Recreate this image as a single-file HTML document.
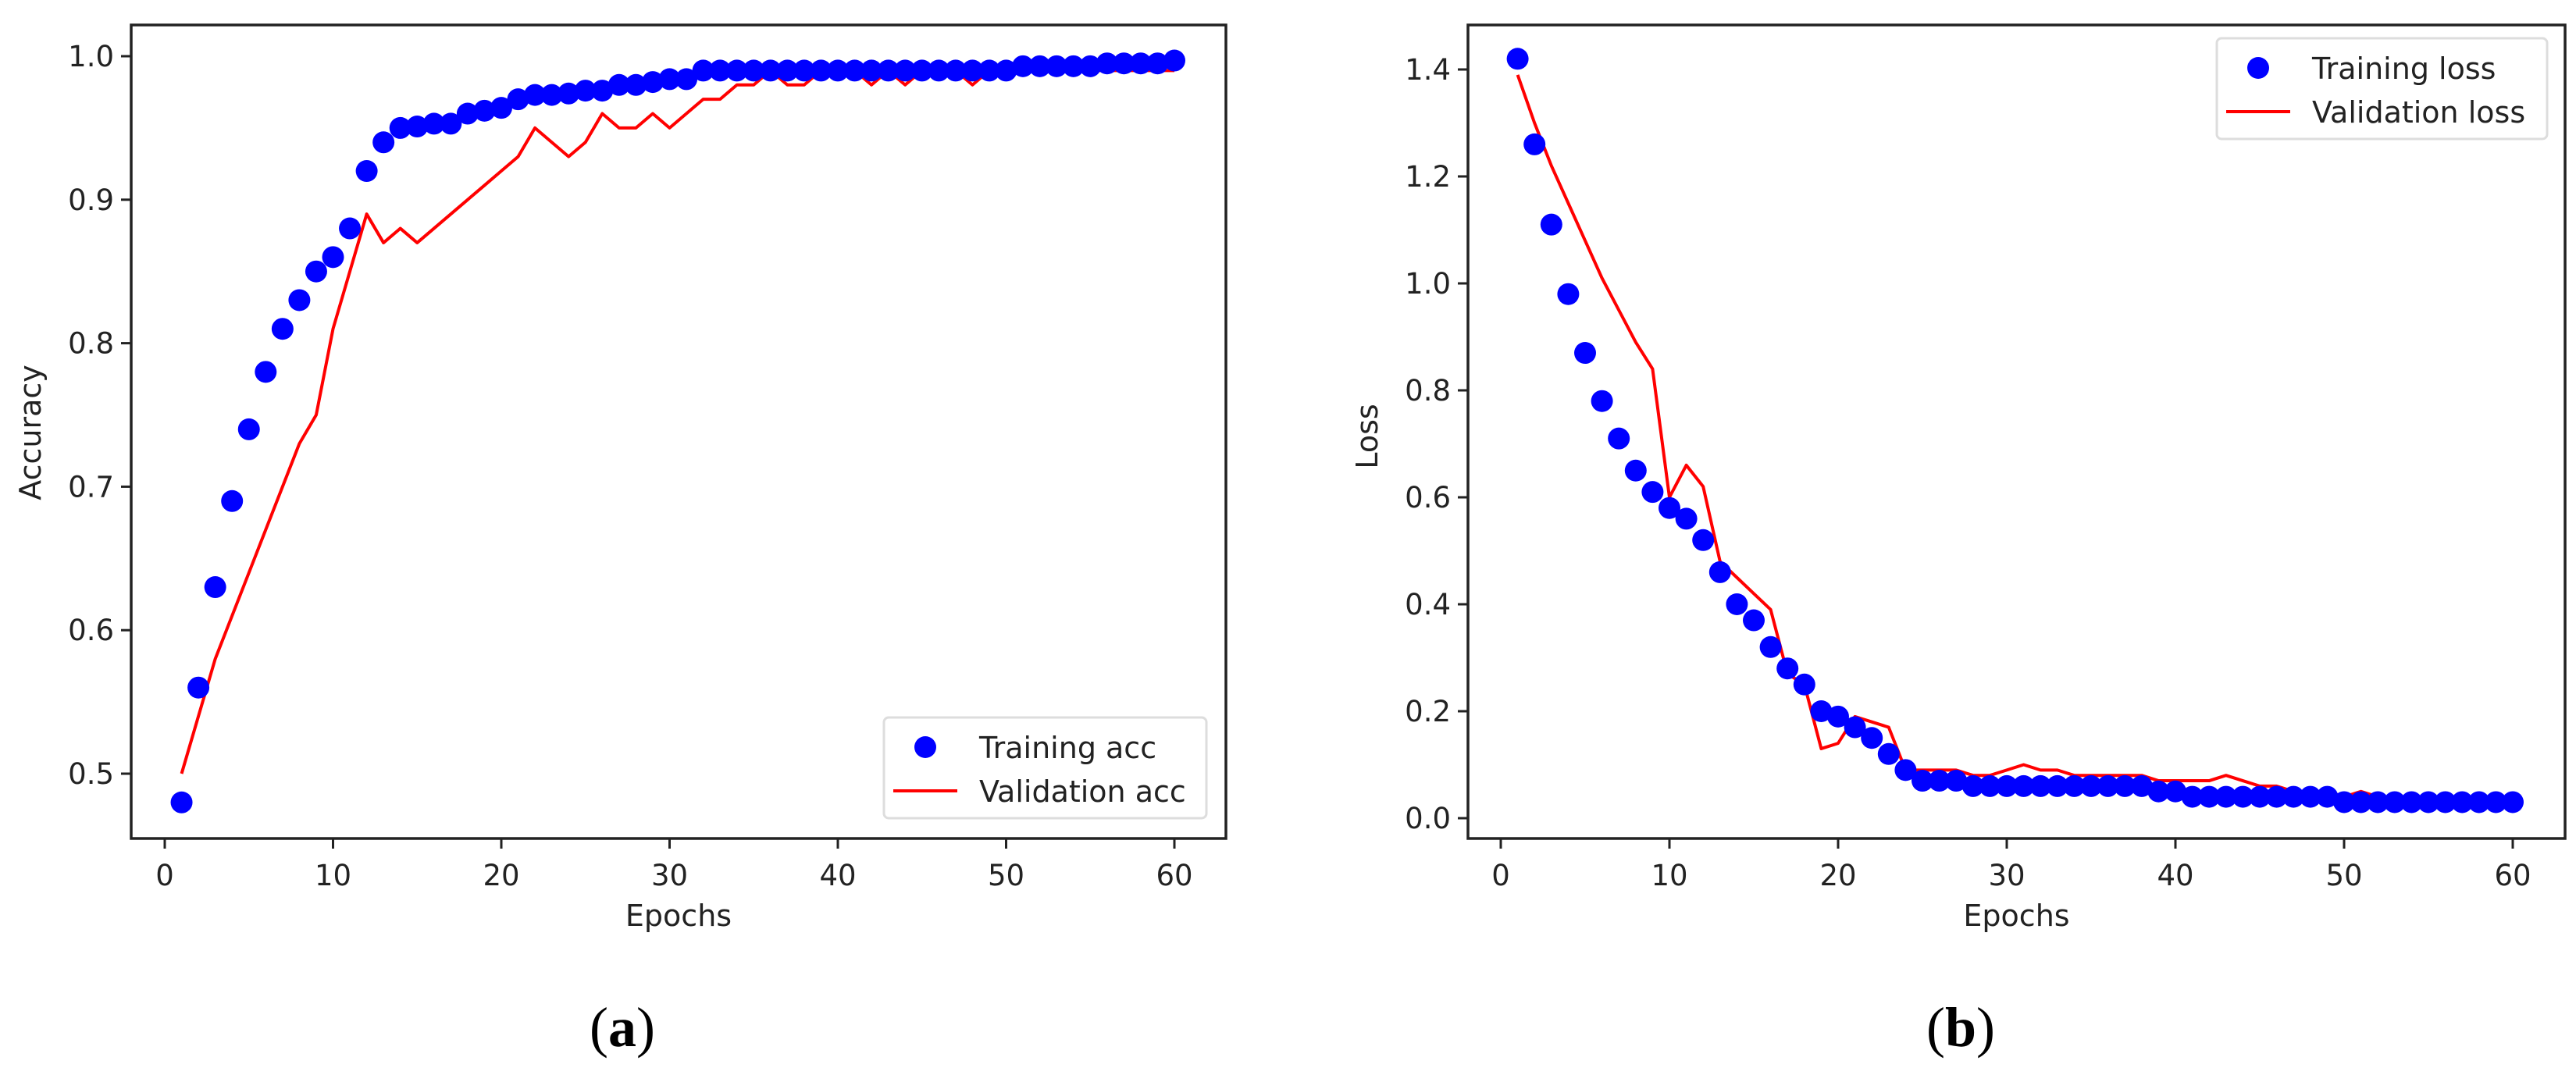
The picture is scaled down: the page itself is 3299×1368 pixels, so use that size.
<!DOCTYPE html>
<html><head><meta charset="utf-8"><style>
html,body{margin:0;padding:0;background:#fff;}
svg{display:block;}
text{font-family:"DejaVu Sans","Liberation Sans",sans-serif;fill:#222;}
.cap{font-family:"Liberation Serif",serif;fill:#000;}
</style></head><body>
<svg id="fig" width="3299" height="1368" viewBox="0 0 3299 1368" xmlns="http://www.w3.org/2000/svg"></svg>
<script>
const epochs = Array.from({length:60},(_,i)=>i+1);
const trainAcc = [0.48,0.56,0.63,0.69,0.74,0.78,0.81,0.83,0.85,0.86,0.88,0.92,0.94,0.95,0.951,0.953,0.953,0.96,0.962,0.964,0.97,0.973,0.973,0.974,0.976,0.976,0.98,0.98,0.982,0.984,0.984,0.99,0.99,0.99,0.99,0.99,0.99,0.99,0.99,0.99,0.99,0.99,0.99,0.99,0.99,0.99,0.99,0.99,0.99,0.99,0.993,0.993,0.993,0.993,0.993,0.995,0.995,0.995,0.995,0.997];
const valAcc = [0.50,0.54,0.58,0.61,0.64,0.67,0.70,0.73,0.75,0.81,0.85,0.89,0.87,0.88,0.87,0.88,0.89,0.90,0.91,0.92,0.93,0.95,0.94,0.93,0.94,0.96,0.95,0.95,0.96,0.95,0.96,0.97,0.97,0.98,0.98,0.99,0.98,0.98,0.99,0.99,0.99,0.98,0.99,0.98,0.99,0.99,0.99,0.98,0.99,0.99,0.99,0.99,0.99,0.99,0.99,0.99,0.99,0.99,0.99,0.99];
const trainLoss = [1.42,1.26,1.11,0.98,0.87,0.78,0.71,0.65,0.61,0.58,0.56,0.52,0.46,0.40,0.37,0.32,0.28,0.25,0.20,0.19,0.17,0.15,0.12,0.09,0.07,0.07,0.07,0.06,0.06,0.06,0.06,0.06,0.06,0.06,0.06,0.06,0.06,0.06,0.05,0.05,0.04,0.04,0.04,0.04,0.04,0.04,0.04,0.04,0.04,0.03,0.03,0.03,0.03,0.03,0.03,0.03,0.03,0.03,0.03,0.03];
const valLoss = [1.39,1.30,1.22,1.15,1.08,1.01,0.95,0.89,0.84,0.60,0.66,0.62,0.48,0.45,0.42,0.39,0.27,0.25,0.13,0.14,0.19,0.18,0.17,0.09,0.09,0.09,0.09,0.08,0.08,0.09,0.10,0.09,0.09,0.08,0.08,0.08,0.08,0.08,0.07,0.07,0.07,0.07,0.08,0.07,0.06,0.06,0.05,0.05,0.05,0.04,0.05,0.04,0.03,0.04,0.04,0.04,0.04,0.04,0.04,0.04];
const xTicks = [0,10,20,30,40,50,60];
const accTicks = [0.5,0.6,0.7,0.8,0.9,1.0];
const lossTicks = [0.0,0.2,0.4,0.6,0.8,1.0,1.2,1.4];

const NS="http://www.w3.org/2000/svg";
const svg=document.getElementById('fig');
function mk(tag,attrs,parent){const e=document.createElementNS(NS,tag);for(const k in attrs)e.setAttribute(k,attrs[k]);(parent||svg).appendChild(e);return e;}

function panel(cfg){
  const g=mk('g',{});
  
  
  const xs=v=>cfg.x0px+(v-0)*(cfg.x60px-cfg.x0px)/60;
  const ys=v=>cfg.yA+(v-cfg.vA)*(cfg.yB-cfg.yA)/(cfg.vB-cfg.vA);
  // ticks
  xTicks.forEach(t=>{
    const l=mk('line',{x1:xs(t),x2:xs(t),y1:cfg.B,y2:cfg.B+13,stroke:'#222','stroke-width':3},g);
    
    
    const tx=mk('text',{x:xs(t),y:cfg.B+60,'font-size':37,'text-anchor':'middle'},g);
    tx.textContent=t;
    
    
  });
  cfg.yTicks.forEach(t=>{
    const l=mk('line',{x1:cfg.L-13,x2:cfg.L,y1:ys(t),y2:ys(t),stroke:'#222','stroke-width':3},g);
    
    
    const tx=mk('text',{x:cfg.L-22,y:ys(t)+13,'font-size':37,'text-anchor':'end'},g);
    tx.textContent=t.toFixed(1);
    
    
  });
  // val line
  const pts=epochs.map((e,i)=>xs(e)+','+ys(cfg.val[i])).join(' ');
  const pl=mk('polyline',{points:pts,fill:'none',stroke:'#ff0000','stroke-width':4,'stroke-linejoin':'round'},g);
  
  
  // train dots
  epochs.forEach((e,i)=>{
    const c=mk('circle',{cx:xs(e),cy:ys(cfg.train[i]),r:14,fill:'#0000ff'},g);
    
    
  });
  // frame
  const fr=mk('rect',{x:cfg.L,y:cfg.T,width:cfg.R-cfg.L,height:cfg.B-cfg.T,fill:'none',stroke:'#222','stroke-width':3.5},g);
  
  
  // labels
  const xl=mk('text',{x:(cfg.L+cfg.R)/2,y:1186,'font-size':38,'text-anchor':'middle'},g);
  xl.textContent='Epochs';
  
  
  const yl=mk('text',{x:cfg.ylx,y:cfg.yly,'font-size':38,'text-anchor':'middle',transform:`rotate(-90 ${cfg.ylx} ${cfg.yly})`},g);
  yl.textContent=cfg.ylabel;
  
  
  // legend
  const lg=mk('g',{},g);
  
  
  const lx=cfg.legX, ly=cfg.legY;
  mk('rect',{x:lx,y:ly,width:cfg.legW,height:129,rx:6,fill:'#fff',stroke:'#ddd','stroke-width':3},lg);
  mk('circle',{cx:lx+53,cy:ly+38,r:14,fill:'#0000ff'},lg);
  mk('line',{x1:lx+12,x2:lx+94,y1:ly+94,y2:ly+94,stroke:'#ff0000','stroke-width':4},lg);
  const t1=mk('text',{x:lx+122,y:ly+52,'font-size':38},lg); t1.textContent=cfg.legT;
  
  
  const t2=mk('text',{x:lx+122,y:ly+108,'font-size':38},lg); t2.textContent=cfg.legV;
  
  
  // caption
  const cap=mk('text',{x:cfg.capX,y:1340,'font-size':72,'text-anchor':'middle',class:'cap'},g);
  cap.innerHTML='(<tspan font-weight="bold">'+cfg.cap+'</tspan>)';
  
  
}

panel({name:'accuracy-chart',L:168,R:1570,T:32,B:1074,x0px:211,x60px:1504,
  yA:72,vA:1.0,yB:991,vB:0.5,yTicks:accTicks,train:trainAcc,val:valAcc,
  ylabel:'Accuracy',ylx:52,yly:554,legX:1132,legY:919,legW:413,
  legT:'Training acc',legV:'Validation acc',capX:797,cap:'a'});
panel({name:'loss-chart',L:1880,R:3285,T:32,B:1074,x0px:1922,x60px:3218,
  yA:1048,vA:0.0,yB:89,vB:1.4,yTicks:lossTicks,train:trainLoss,val:valLoss,
  ylabel:'Loss',ylx:1764,yly:559,legX:2839,legY:49,legW:423,
  legT:'Training loss',legV:'Validation loss',capX:2511,cap:'b'});
</script>
</body></html>
